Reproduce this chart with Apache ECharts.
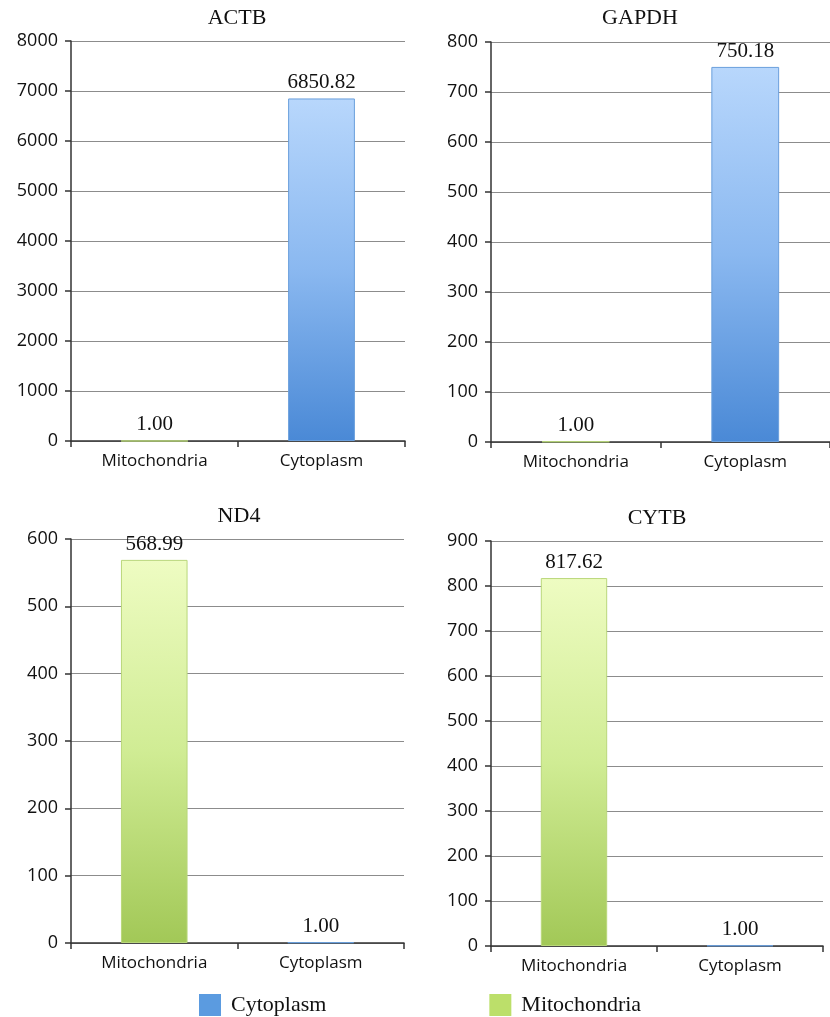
<!DOCTYPE html>
<html>
<head>
<meta charset="utf-8">
<script src="https://cdn.jsdelivr.net/npm/echarts@6/dist/echarts.min.js"></script>
<style>
  html, body { margin: 0; padding: 0; background: #fff; }
  #chart { width: 830px; height: 1017px; }
</style>
</head>
<body>
<div id="chart"></div>
<script>
// Relative transcript abundance in each fraction, per gene
const categories = ['Mitochondria', 'Cytoplasm'];
const genes = ['ACTB', 'GAPDH', 'ND4', 'CYTB'];
const mitochondriaValues = [1.00, 1.00, 568.99, 817.62];
const cytoplasmValues = [6850.82, 750.18, 1.00, 1.00];
const axisMax = [8000, 800, 600, 900];
const axisStep = [1000, 100, 100, 100];

// Panel geometry (pixels)
const panels = [
  { left: 71,  top: 41,  width: 334, height: 400, titleX: 237, titleY: 18 },
  { left: 491, top: 42,  width: 345, height: 400, titleX: 640, titleY: 18 },
  { left: 71,  top: 539, width: 333, height: 404, titleX: 239, titleY: 516 },
  { left: 491, top: 541, width: 332, height: 405, titleX: 657, titleY: 518 }
];

const blueGrad = new echarts.graphic.LinearGradient(0, 0, 0, 1, [
  { offset: 0, color: '#b8d7fc' },
  { offset: 0.5, color: '#8ab8f0' },
  { offset: 1, color: '#4a89d6' }
]);
const greenGrad = new echarts.graphic.LinearGradient(0, 0, 0, 1, [
  { offset: 0, color: '#eefcc2' },
  { offset: 0.5, color: '#d0ec94' },
  { offset: 1, color: '#a2c857' }
]);

const serif = '"Liberation Serif", "DejaVu Serif", serif';
const sans = '"Open Sans", "Noto Sans", sans-serif';

const grid = [], xAxis = [], yAxis = [], series = [], graphic = [];

panels.forEach((p, i) => {
  grid.push({ left: p.left, top: p.top, width: p.width, height: p.height, containLabel: false });
  xAxis.push({
    type: 'category', gridIndex: i, data: categories,
    axisLine: { lineStyle: { color: '#333', width: 1.5 } },
    axisTick: { show: true, length: 6, lineStyle: { color: '#333', width: 1.5 } },
    axisLabel: { color: '#111', fontFamily: sans, fontSize: 17, margin: 12 }
  });
  yAxis.push({
    type: 'value', gridIndex: i, min: 0, max: axisMax[i], interval: axisStep[i],
    axisLine: { show: true, lineStyle: { color: '#333', width: 1.5 } },
    axisTick: { show: true, length: 6, lineStyle: { color: '#333', width: 1.5 } },
    axisLabel: { color: '#111', fontFamily: sans, fontSize: 18, margin: 13, formatter: (v) => String(v) },
    splitLine: { lineStyle: { color: '#8c8c8c', width: 1.2 } }
  });
  const label = {
    show: true, position: 'top', distance: 5,
    fontFamily: serif, fontSize: 21, color: '#111',
    formatter: (d) => d.value.toFixed(2)
  };
  series.push({
    name: 'Mitochondria', type: 'bar', xAxisIndex: i, yAxisIndex: i,
    barWidth: '40%', barGap: '-100%',
    data: [mitochondriaValues[i], '-'],
    itemStyle: { color: greenGrad, borderColor: '#b9d77a', borderWidth: 1 },
    label
  });
  series.push({
    name: 'Cytoplasm', type: 'bar', xAxisIndex: i, yAxisIndex: i,
    barWidth: '40%', barGap: '-100%',
    data: ['-', cytoplasmValues[i]],
    itemStyle: { color: blueGrad, borderColor: '#6a9fdc', borderWidth: 1 },
    label
  });
  graphic.push({
    type: 'text', x: p.titleX, y: p.titleY,
    style: {
      text: genes[i], fontFamily: serif, fontSize: 22, fill: '#111',
      textAlign: 'center', textVerticalAlign: 'middle'
    }
  });
});

const chart = echarts.init(document.getElementById('chart'), null, { renderer: 'canvas' });
chart.setOption({
  animation: false,
  backgroundColor: '#fff',
  grid, xAxis, yAxis, series, graphic,
  legend: {
    left: 199, top: 994, padding: 0,
    itemWidth: 22, itemHeight: 22, itemGap: 163,
    icon: 'rect',
    textStyle: { fontFamily: serif, fontSize: 22, color: '#111', padding: [0, 0, 0, 5] },
    data: [
      { name: 'Cytoplasm', itemStyle: { color: '#5b9be0', borderWidth: 0 } },
      { name: 'Mitochondria', itemStyle: { color: '#bcdf6a', borderWidth: 0 } }
    ]
  }
});
</script>
</body>
</html>
